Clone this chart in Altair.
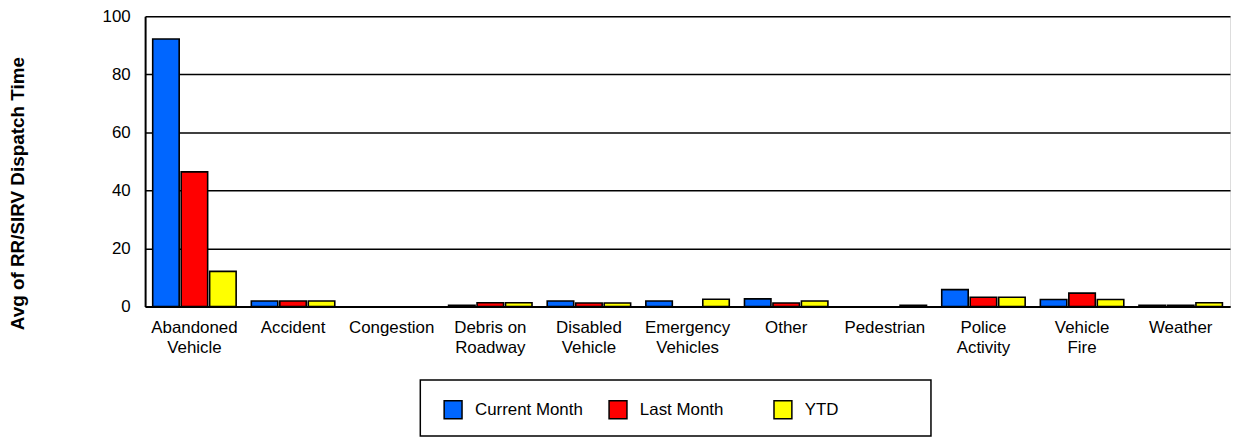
import altair as alt
import pandas as pd

categories = ["Abandoned Vehicle", "Accident", "Congestion", "Debris on Roadway",
              "Disabled Vehicle", "Emergency Vehicles", "Other", "Pedestrian",
              "Police Activity", "Vehicle Fire", "Weather"]
series = ["Current Month", "Last Month", "YTD"]
current_month = [92.2, 1.9, 0, 0.4, 1.9, 1.9, 2.6, 0, 5.8, 2.4, 0.4]
last_month = [46.4, 1.9, 0, 1.3, 1.2, 0, 1.2, 0, 3.2, 4.6, 0.4]
ytd = [12.1, 1.9, 0, 1.3, 1.2, 2.5, 1.9, 0.4, 3.2, 2.4, 1.3]
colors = ["#0066FF", "#FF0000", "#FFFF00"]
y_ticks = [0, 20, 40, 60, 80, 100]

rows = []
for name, vals in zip(series, [current_month, last_month, ytd]):
    for c, v in zip(categories, vals):
        rows.append({"category": c, "series": name, "value": v})
df = pd.DataFrame(rows)

FONT = "Liberation Sans"

label_expr = ("indexof(datum.value, ' ') < 0 ? datum.value : "
              "[slice(datum.value, 0, lastindexof(datum.value, ' ')), "
              "slice(datum.value, lastindexof(datum.value, ' ') + 1)]")

bars = alt.Chart(df).transform_filter("datum.value > 0").mark_bar(
    stroke="black", strokeWidth=1.6
).encode(
    x=alt.X("category:N", sort=categories,
            scale=alt.Scale(domain=categories, paddingInner=0.154, paddingOuter=0.077),
            axis=alt.Axis(title=None, labelAngle=0, labelFontSize=17, labelFont=FONT,
                          labelColor="black", labelPadding=13, ticks=False,
                          domainColor="black", domainWidth=2, grid=False,
                          labelExpr=label_expr, labelLineHeight=20)),
    xOffset=alt.XOffset("series:N", sort=series,
                        scale=alt.Scale(domain=series, paddingInner=0.07, paddingOuter=0)),
    y=alt.Y("value:Q", scale=alt.Scale(domain=[0, 100]),
            axis=alt.Axis(values=y_ticks, title="Avg of RR/SIRV Dispatch Time",
                          titleFontSize=19, titleFontWeight="bold", titleFont=FONT,
                          titleColor="black", titleX=-128, titleY=178, titleAngle=270,
                          titleAlign="center", titleBaseline="middle",
                          labelFontSize=17, labelFont=FONT, labelColor="black",
                          labelPadding=15, ticks=False, domainColor="black",
                          domainWidth=2, gridColor="black", gridWidth=1.5)),
    color=alt.Color("series:N", sort=series,
                    scale=alt.Scale(domain=series, range=colors),
                    legend=alt.Legend(orient="none", legendX=300, legendY=386,
                                      direction="horizontal", title=None,
                                      symbolType="square", symbolSize=324,
                                      symbolStrokeColor="black", symbolStrokeWidth=1.5,
                                      symbolOpacity=1, labelFontSize=17, labelFont=FONT,
                                      labelColor="black", labelOffset=12,
                                      columnPadding=23, gridAlign="all", padding=0)),
)

legend_box = alt.Chart(alt.Data(values=[{"box": 1}])).mark_rect(
    fillOpacity=0, stroke="black", strokeWidth=1.5
).encode(
    x=alt.value(277), x2=alt.value(791), y=alt.value(366), y2=alt.value(422.5)
)

chart = alt.layer(bars, legend_box).properties(
    width=1092, height=292,
    autosize=alt.AutoSizeParams(type="none"),
    padding={"left": 138, "top": 7, "right": 2, "bottom": 131},
).configure_view(stroke="black", strokeWidth=2).configure(background="white")

chart.save("out.html", embed_options={"renderer": "svg", "actions": False})
